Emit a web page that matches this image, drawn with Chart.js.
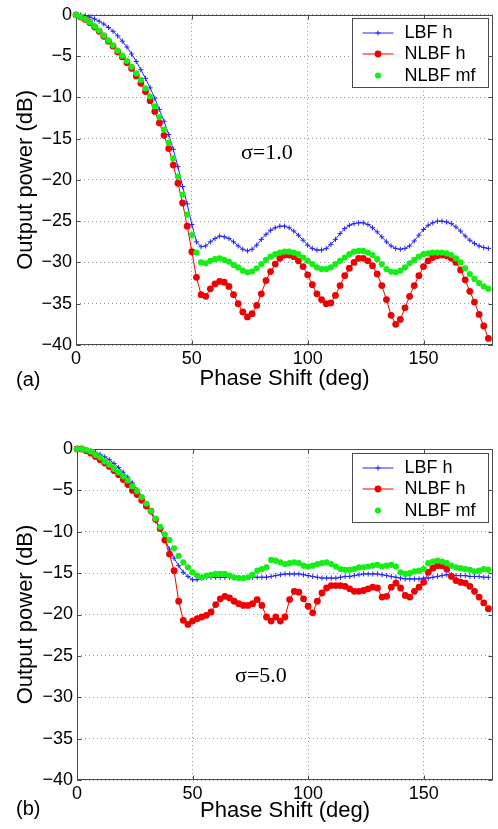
<!DOCTYPE html>
<html>
<head>
<meta charset="utf-8">
<script src="https://cdn.jsdelivr.net/npm/chart.js@4.4.0/dist/chart.umd.min.js"></script>
<style>
html,body{margin:0;padding:0;background:#fff;}
#wrap{position:relative;width:498px;height:829px;overflow:hidden;}
canvas{position:absolute;left:0;display:block;}
</style>
</head>
<body>
<div id="wrap">
<canvas id="cA" width="498" height="400" style="top:0px"></canvas>
<canvas id="cB" width="498" height="414" style="top:415px"></canvas>
</div>
<script>
// ---------- data ----------
const phaseDeg = [0,2,4,6,8,10,12,14,16,18,20,22,24,26,28,30,32,34,36,38,40,42,44,46,48,50,52,54,56,58,60,62,64,66,68,70,72,74,76,78,80,82,84,86,88,90,92,94,96,98,100,102,104,106,108,110,112,114,116,118,120,122,124,126,128,130,132,134,136,138,140,142,144,146,148,150,152,154,156,158,160,162,164,166,168,170,172,174,176,178];

const seriesNames = ['LBF h', 'NLBF h', 'NLBF mf'];
const xTickValues = [0, 50, 100, 150];
const yTickValues = [0, -5, -10, -15, -20, -25, -30, -35, -40];
const panelLabels = ['(a)', '(b)'];
const sigmaLabels = ['\u03c3=1.0', '\u03c3=5.0'];
const xAxisTitle = 'Phase Shift (deg)';
const yAxisTitle = 'Output power (dB)';

// panel (a): sigma = 1.0
const lbfH_s1 = [0,-0.03,-0.12,-0.28,-0.5,-0.78,-1.12,-1.53,-2.0,-2.55,-3.2,-3.9,-4.75,-5.65,-6.65,-7.7,-8.85,-10.1,-11.45,-12.9,-14.5,-16.3,-18.4,-20.8,-22.9,-25.4,-27.5,-28.1,-28.0,-27.5,-27.1,-26.8,-26.9,-27.1,-27.5,-28.0,-28.4,-28.6,-28.4,-27.9,-27.2,-26.6,-26.1,-25.8,-25.6,-25.6,-25.8,-26.2,-26.7,-27.3,-27.9,-28.3,-28.5,-28.5,-28.3,-27.8,-27.2,-26.5,-25.9,-25.5,-25.3,-25.2,-25.2,-25.4,-25.8,-26.3,-26.9,-27.5,-28.0,-28.3,-28.4,-28.3,-28.0,-27.4,-26.7,-26.0,-25.5,-25.2,-25.0,-25.0,-25.1,-25.3,-25.7,-26.2,-26.8,-27.3,-27.7,-28.0,-28.2,-28.3];
const nlbfH_s1 = [0,-0.28,-0.56,-0.96,-1.48,-2.0,-2.6,-3.2,-3.8,-4.5,-5.1,-5.8,-6.5,-7.4,-8.3,-9.3,-10.4,-11.7,-13.1,-14.6,-16.2,-18.2,-20.4,-22.8,-25.6,-28.7,-31.8,-33.9,-34.1,-33.2,-32.6,-32.3,-32.4,-32.9,-33.9,-35.0,-36.0,-36.6,-36.2,-35.2,-33.8,-32.2,-31.1,-30.2,-29.5,-29.1,-29.1,-29.3,-29.8,-30.5,-31.5,-32.7,-33.8,-34.5,-35.0,-34.9,-34.0,-32.8,-31.6,-30.7,-30.0,-29.5,-29.5,-29.8,-30.4,-31.4,-32.8,-34.5,-36.4,-37.5,-36.9,-35.5,-34.1,-32.8,-31.6,-30.5,-29.8,-29.4,-29.2,-29.1,-29.2,-29.5,-30.0,-30.9,-32.1,-33.5,-34.8,-36.3,-37.7,-39.2];
const nlbfMf_s1 = [0,-0.25,-0.52,-0.9,-1.4,-1.9,-2.5,-3.1,-3.7,-4.35,-4.95,-5.6,-6.3,-7.1,-7.9,-8.9,-9.9,-11.1,-12.4,-13.9,-15.5,-17.4,-19.6,-21.8,-24.2,-26.7,-28.8,-30.0,-30.1,-29.8,-29.6,-29.5,-29.7,-29.9,-30.3,-30.6,-31.0,-31.2,-31.1,-30.7,-30.2,-29.7,-29.3,-29.0,-28.8,-28.7,-28.7,-28.8,-29.0,-29.4,-29.8,-30.2,-30.6,-30.8,-30.8,-30.6,-30.2,-29.8,-29.4,-29.0,-28.7,-28.6,-28.6,-28.8,-29.1,-29.6,-30.2,-30.8,-31.1,-31.2,-31.0,-30.6,-30.1,-29.7,-29.3,-29.0,-28.9,-28.8,-28.8,-28.8,-28.9,-29.1,-29.5,-30.0,-30.7,-31.4,-32.0,-32.5,-32.9,-33.2];

// panel (b): sigma = 5.0
const lbfH_s5 = [0,-0.02,-0.1,-0.22,-0.4,-0.65,-0.95,-1.3,-1.75,-2.25,-2.8,-3.4,-4.1,-4.9,-5.8,-6.7,-7.7,-8.7,-9.7,-10.9,-12.1,-13.2,-14.1,-14.9,-15.4,-15.8,-15.8,-15.6,-15.5,-15.5,-15.5,-15.5,-15.5,-15.5,-15.6,-15.6,-15.6,-15.5,-15.5,-15.5,-15.5,-15.5,-15.4,-15.3,-15.2,-15.1,-15.1,-15.1,-15.1,-15.2,-15.3,-15.4,-15.5,-15.6,-15.6,-15.6,-15.6,-15.5,-15.4,-15.4,-15.3,-15.2,-15.1,-15.1,-15.1,-15.1,-15.2,-15.3,-15.4,-15.5,-15.6,-15.7,-15.7,-15.7,-15.7,-15.6,-15.6,-15.5,-15.4,-15.3,-15.2,-15.2,-15.3,-15.3,-15.3,-15.4,-15.4,-15.4,-15.5,-15.5];
const nlbfH_s5 = [0,0,-0.2,-0.5,-0.9,-1.3,-1.7,-2.1,-2.6,-3.1,-3.7,-4.3,-5.0,-5.5,-6.2,-6.9,-7.5,-8.5,-9.6,-11.0,-12.7,-14.7,-18.4,-20.7,-21.2,-20.8,-20.5,-20.3,-20.1,-19.7,-18.8,-18.1,-17.8,-18.0,-18.4,-18.7,-18.9,-18.9,-18.7,-18.2,-18.9,-20.3,-20.8,-20.3,-20.8,-20.3,-18.2,-17.2,-17.3,-18.1,-19.0,-19.8,-18.4,-17.4,-16.8,-16.5,-16.5,-16.5,-16.6,-16.9,-17.2,-17.2,-17.1,-16.9,-16.7,-16.8,-17.9,-17.8,-16.7,-16.2,-16.8,-17.7,-17.9,-17.2,-16.7,-16.1,-14.9,-14.4,-14.1,-14.1,-14.5,-15.4,-15.9,-16.1,-16.2,-16.6,-17.2,-17.9,-18.6,-19.3];
const nlbfMf_s5 = [0,0,-0.1,-0.3,-0.7,-1.0,-1.5,-1.9,-2.4,-2.8,-3.3,-3.8,-4.5,-5.1,-5.8,-6.6,-7.5,-8.4,-9.4,-10.3,-11.0,-12.0,-12.9,-13.7,-14.3,-14.9,-15.3,-15.5,-15.3,-15.2,-15.1,-15.1,-15.1,-15.3,-15.5,-15.6,-15.6,-15.5,-15.2,-14.7,-14.5,-14.3,-13.4,-13.5,-13.7,-13.9,-13.8,-13.7,-13.8,-14.1,-14.2,-14.1,-13.9,-13.8,-13.7,-13.9,-14.2,-14.5,-14.6,-14.6,-14.5,-14.3,-14.3,-14.2,-14.1,-14.0,-14.2,-14.1,-14.0,-14.2,-14.9,-15.1,-15.0,-14.8,-14.7,-14.5,-13.8,-13.6,-13.5,-13.6,-13.8,-14.1,-14.3,-14.4,-14.5,-14.6,-14.8,-14.7,-14.5,-14.6];

// ---------- styling ----------
const SANS = "'Liberation Sans', Arial, Helvetica, sans-serif";
const SERIF = "'Liberation Serif', 'Times New Roman', serif";
const BOX = '#4a4a4a';
const GRID = '#9a9a9a';
const COL_BLUE = '#2424ff';
const COL_RED = '#f00000';
const COL_GREEN = '#14ee14';

function minusFmt(v) { return v < 0 ? '\u2212' + Math.abs(v) : String(v); }

const decor = {
  id: 'decor',
  beforeDatasetsDraw(chart, args, o) {
    const ctx = chart.ctx, a = chart.chartArea;
    const xs = chart.scales.x, ys = chart.scales.y;
    ctx.save();
    ctx.strokeStyle = BOX; ctx.lineWidth = 1;
    const L = Math.round(a.left) + 0.5, R = Math.round(a.right) - 0.5;
    const T = Math.round(a.top) + 0.5, B = Math.round(a.bottom) - 0.5;
    ctx.strokeRect(L, T, R - L, B - T);
    ctx.beginPath();
    xTickValues.forEach(v => {
      const px = Math.round(xs.getPixelForValue(v)) + 0.5;
      ctx.moveTo(px, B); ctx.lineTo(px, B - 4);
      ctx.moveTo(px, T); ctx.lineTo(px, T + 4);
    });
    yTickValues.forEach(v => {
      const py = Math.round(ys.getPixelForValue(v)) + 0.5;
      ctx.moveTo(L, py); ctx.lineTo(L + 4, py);
      ctx.moveTo(R, py); ctx.lineTo(R - 4, py);
    });
    ctx.stroke();
    ctx.restore();
  },
  afterDatasetsDraw(chart, args, o) {
    const ctx = chart.ctx, a = chart.chartArea;
    const xs = chart.scales.x, ys = chart.scales.y;
    ctx.save();
    // sigma label
    ctx.fillStyle = '#000';
    ctx.font = '22px ' + SERIF;
    ctx.textAlign = 'left'; ctx.textBaseline = 'middle';
    ctx.fillText(o.sigma, xs.getPixelForValue(o.sigmaAt[0]), ys.getPixelForValue(o.sigmaAt[1]));
    // legend
    const w = 136, h = 69;
    const x0 = Math.round(a.right - 141) + 0.5, y0 = Math.round(a.top + o.legendTop) + 0.5;
    ctx.fillStyle = '#fff';
    ctx.fillRect(x0, y0, w, h);
    ctx.strokeStyle = BOX; ctx.lineWidth = 1;
    ctx.strokeRect(x0, y0, w, h);
    const rows = [14.5, 35.5, 57];
    const order = [0, 1, 2];
    order.forEach((di, r) => {
      const ds = chart.data.datasets[di];
      const y = y0 + rows[r];
      const mx = x0 + 25.5;
      if (ds.showLine !== false) {
        ctx.strokeStyle = ds.borderColor; ctx.lineWidth = 1;
        ctx.beginPath(); ctx.moveTo(x0 + 10, y); ctx.lineTo(x0 + 41, y); ctx.stroke();
      }
      if (ds.pointStyle === 'cross') {
        ctx.strokeStyle = ds.pointBorderColor; ctx.lineWidth = 1;
        ctx.beginPath();
        ctx.moveTo(mx - ds.pointRadius, y); ctx.lineTo(mx + ds.pointRadius, y);
        ctx.moveTo(mx, y - ds.pointRadius); ctx.lineTo(mx, y + ds.pointRadius);
        ctx.stroke();
      } else {
        ctx.fillStyle = ds.pointBackgroundColor;
        ctx.beginPath(); ctx.arc(mx, y, ds.pointRadius, 0, Math.PI * 2); ctx.fill();
      }
      ctx.fillStyle = '#000';
      ctx.font = '18px ' + SANS;
      ctx.textAlign = 'left'; ctx.textBaseline = 'middle';
      ctx.fillText(ds.label, x0 + 52, y + 0.5);
    });
    // panel label
    ctx.fillStyle = '#000';
    ctx.font = '20px ' + SANS;
    ctx.textAlign = 'left'; ctx.textBaseline = 'middle';
    ctx.fillText(o.panel, 16, o.panelY);
    ctx.restore();
  }
};

function pts(vals) { return phaseDeg.map((x, i) => ({ x: x, y: vals[i] })); }

function makeChart(id, lbf, nlbf, mf, cfg) {
  return new Chart(document.getElementById(id), {
    type: 'line',
    data: {
      datasets: [
        { label: seriesNames[0], data: pts(lbf), borderColor: COL_BLUE, borderWidth: 1,
          pointStyle: 'cross', pointRadius: 2.6, pointBorderColor: COL_BLUE, pointBackgroundColor: COL_BLUE,
          pointBorderWidth: 1, tension: 0, order: 2, clip: false },
        { label: seriesNames[1], data: pts(nlbf), borderColor: COL_RED, borderWidth: 1,
          pointStyle: 'circle', pointRadius: 3.4, pointBorderWidth: 0, pointBorderColor: COL_RED,
          pointBackgroundColor: COL_RED, tension: 0, order: 1, clip: false },
        { label: seriesNames[2], data: pts(mf), showLine: false, borderColor: COL_GREEN,
          pointStyle: 'circle', pointRadius: 3.1, pointBorderWidth: 0, pointBorderColor: COL_GREEN,
          pointBackgroundColor: COL_GREEN, order: 0, clip: false }
      ]
    },
    options: {
      responsive: false,
      animation: false,
      events: [],
      layout: { padding: { top: cfg.padTop, right: 1, left: 0, bottom: 0 } },
      plugins: {
        legend: { display: false },
        tooltip: { enabled: false },
        decor: cfg.decor
      },
      scales: {
        x: {
          type: 'linear', min: 0, max: 180,
          afterFit: s => { s.height = cfg.xAxisH; },
          ticks: { stepSize: 50, includeBounds: false, padding: 3, color: '#000',
                   font: { family: SANS, size: 18 }, maxRotation: 0, callback: v => String(v) },
          grid: { color: GRID, lineWidth: 1, drawTicks: false },
          border: { display: false, dash: [1, 3] },
          title: { display: true, text: xAxisTitle, color: '#000',
                   font: { family: SANS, size: 22 }, padding: { top: 0, bottom: cfg.xTitlePad } }
        },
        y: {
          type: 'linear', min: -40, max: 0,
          afterFit: s => { s.width = cfg.yAxisW; },
          ticks: { stepSize: 5, padding: 4, color: '#000',
                   font: { family: SANS, size: 18 }, callback: v => minusFmt(v) },
          grid: { color: GRID, lineWidth: 1, drawTicks: false },
          border: { display: false, dash: [1, 3] },
          title: { display: true, text: yAxisTitle, color: '#000',
                   font: { family: SANS, size: 22 }, padding: { top: 13, bottom: 0 } }
        }
      }
    },
    plugins: [decor]
  });
}

makeChart('cA', lbfH_s1, nlbfH_s1, nlbfMf_s1, {
  padTop: 13, xAxisH: 55, yAxisW: 76, xTitlePad: 8,
  decor: { sigma: sigmaLabels[0], sigmaAt: [71.2, -16.8], legendTop: 3, panel: panelLabels[0], panelY: 380 }
});
makeChart('cB', lbfH_s5, nlbfH_s5, nlbfMf_s5, {
  padTop: 34, xAxisH: 49, yAxisW: 77, xTitlePad: 5,
  decor: { sigma: sigmaLabels[1], sigmaAt: [68.4, -27.5], legendTop: 4, panel: panelLabels[1], panelY: 394 }
});
</script>
</body>
</html>
